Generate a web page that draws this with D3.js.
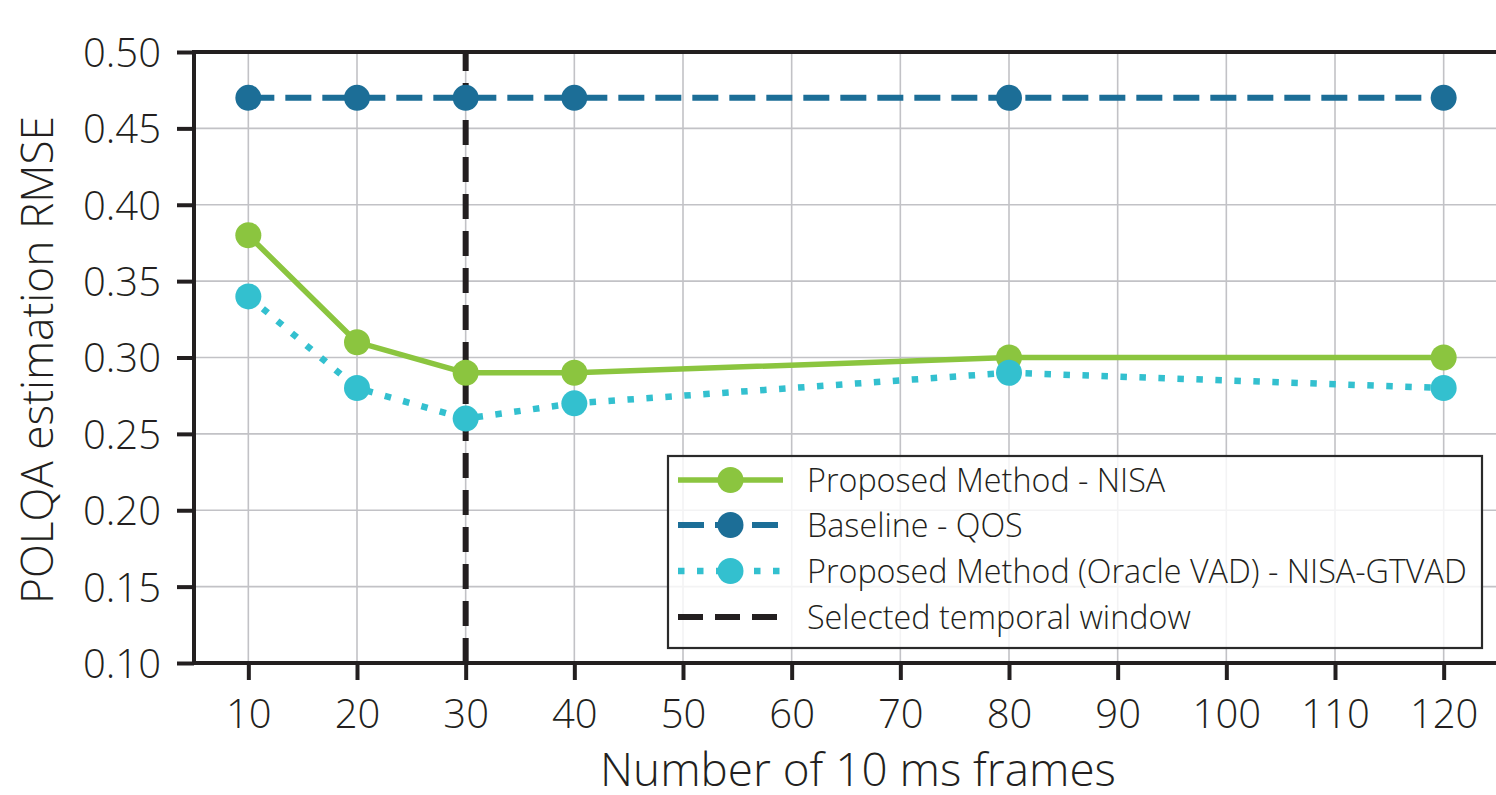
<!DOCTYPE html>
<html>
<head>
<meta charset="utf-8">
<script src="https://cdn.jsdelivr.net/npm/d3@7"></script>
<style>
  html, body { margin: 0; padding: 0; background: #fff; overflow: hidden; }
  svg { display: block; }
  text { font-family: "Open Sans", "Noto Sans", sans-serif; fill: #231f20; }
</style>
</head>
<body>
<svg id="chart" width="1496" height="795"></svg>
<script>
// ---- data ----
const frames = [10, 20, 30, 40, 80, 120];
const nisa   = [0.38, 0.31, 0.29, 0.29, 0.30, 0.30];
const qos    = [0.47, 0.47, 0.47, 0.47, 0.47, 0.47];
const gtvad  = [0.34, 0.28, 0.26, 0.27, 0.29, 0.28];
const selectedWindow = 30;
const xTicks = [10, 20, 30, 40, 50, 60, 70, 80, 90, 100, 110, 120];
const yTicks = [0.10, 0.15, 0.20, 0.25, 0.30, 0.35, 0.40, 0.45, 0.50];
const seriesNames = ["Proposed Method - NISA", "Baseline - QOS", "Proposed Method (Oracle VAD) - NISA-GTVAD"];
const vlineName = "Selected temporal window";
const xLabel = "Number of 10 ms frames";
const yLabel = "POLQA estimation RMSE";

// ---- styles ----
const C_GREEN = "#8bc53f", C_BLUE = "#1c6e97", C_CYAN = "#33c0cf", C_DARK = "#231f20";
const styles = [
  { color: C_GREEN, dash: null, lw: 5.5 },
  { color: C_BLUE,  dash: "26,11", lw: 6 },
  { color: C_CYAN,  dash: "6.5,12.5", lw: 6.5 }
];
const markerR = 13;
const SPINE_W = 4;

const svg = d3.select("#chart");
const L = 194, R = 1498, T = 52, B = 663;

const x = d3.scaleLinear().domain([5, 125]).range([L, R]);
const y = d3.scaleLinear().domain([0.10, 0.50]).range([B, T]);

// grid
const grid = svg.append("g");
grid.selectAll("line.vx").data(xTicks).join("line")
  .attr("x1", d => x(d)).attr("x2", d => x(d)).attr("y1", T).attr("y2", B)
  .attr("stroke", "#c2c2c6").attr("stroke-width", 1.6);
grid.selectAll("line.hy").data(yTicks).join("line")
  .attr("y1", d => y(d)).attr("y2", d => y(d)).attr("x1", L).attr("x2", R)
  .attr("stroke", "#c2c2c6").attr("stroke-width", 1.6);

// vertical selected window line (bottom to top)
svg.append("line")
  .attr("x1", x(selectedWindow)).attr("x2", x(selectedWindow))
  .attr("y1", B).attr("y2", T)
  .attr("stroke", C_DARK).attr("stroke-width", 6).attr("stroke-dasharray", "25,12");

// series
const allSeries = [nisa, qos, gtvad];
const line = d3.line().x(d => x(d[0])).y(d => y(d[1]));
allSeries.forEach((vals, i) => {
  const pts = frames.map((f, j) => [f, vals[j]]);
  const st = styles[i];
  const g = svg.append("g");
  g.append("path").datum(pts).attr("d", line)
    .attr("fill", "none").attr("stroke", st.color).attr("stroke-width", st.lw)
    .attr("stroke-linejoin", "round")
    .attr("stroke-linecap", st.dash ? "butt" : "round")
    .attr("stroke-dasharray", st.dash);
  g.selectAll("circle").data(pts).join("circle")
    .attr("cx", d => x(d[0])).attr("cy", d => y(d[1])).attr("r", markerR)
    .attr("fill", st.color);
});

// spines
svg.append("line").attr("x1", L).attr("x2", R).attr("y1", T).attr("y2", T)
  .attr("stroke", C_DARK).attr("stroke-width", SPINE_W);
svg.append("line").attr("x1", R).attr("x2", R).attr("y1", T).attr("y2", B)
  .attr("stroke", C_DARK).attr("stroke-width", SPINE_W);

const tickFont = 40;
const xAxis = d3.axisBottom(x).tickValues(xTicks).tickSize(17).tickPadding(8).tickFormat(d3.format("d"));
const gx = svg.append("g").attr("transform", `translate(0,${B})`).call(xAxis);
const yAxis = d3.axisLeft(y).tickValues(yTicks).tickSize(17).tickPadding(16).tickFormat(d3.format(".2f"));
const gy = svg.append("g").attr("transform", `translate(${L},0)`).call(yAxis);
[gx, gy].forEach(g => {
  g.select(".domain").attr("stroke", C_DARK).attr("stroke-width", SPINE_W);
  g.selectAll(".tick line").attr("stroke", C_DARK).attr("stroke-width", SPINE_W);
  g.selectAll(".tick text").attr("font-size", tickFont).attr("font-weight", 300)
    .attr("font-family", '"Open Sans", sans-serif').attr("fill", C_DARK);
});
gx.select(".domain").attr("d", `M${L - 2},0H${R}`);
gy.select(".domain").attr("d", `M0,${B}V${T - 2}`);
gx.selectAll(".tick text").attr("dy", null).attr("y", 65);
gy.selectAll(".tick text").attr("dy", "0.36em");

// axis labels, fitted to target widths
function fit(sel, target) {
  const w = sel.node().getComputedTextLength();
  const fs = parseFloat(sel.attr("font-size"));
  sel.attr("font-size", fs * target / w);
}
const xl = svg.append("text").attr("x", (600 + 1116) / 2).attr("y", 786)
  .attr("text-anchor", "middle").attr("font-size", 42).attr("font-weight", 300).text(xLabel);
fit(xl, 516);
const yl = svg.append("text")
  .attr("transform", `translate(53,${(115 + 605) / 2}) rotate(-90)`)
  .attr("text-anchor", "middle").attr("font-size", 42).attr("font-weight", 300).text(yLabel);
fit(yl, 488);

// legend
const lg = svg.append("g");
lg.append("rect").attr("x", 668).attr("y", 456).attr("width", 814).attr("height", 192)
  .attr("fill", "#fff").attr("fill-opacity", 0.8)
  .attr("stroke", "#2a2a2a").attr("stroke-width", 2.2);
const rowY = [480, 525, 571, 617];
const legendItems = seriesNames.map((n, i) => ({ name: n, st: styles[i], marker: true }))
  .concat([{ name: vlineName, st: { color: C_DARK, dash: "25,12", lw: 6 }, marker: false }]);
const texts = [];
legendItems.forEach((it, i) => {
  const yy = rowY[i];
  lg.append("line").attr("x1", 678).attr("x2", 783).attr("y1", yy).attr("y2", yy)
    .attr("stroke", it.st.color).attr("stroke-width", it.st.lw)
    .attr("stroke-dasharray", it.st.dash);
  if (it.marker) lg.append("circle").attr("cx", 730.5).attr("cy", yy).attr("r", markerR).attr("fill", it.st.color);
  texts.push(lg.append("text").attr("x", 807).attr("y", yy).attr("dy", "0.36em")
    .attr("font-size", 30).attr("font-weight", 300).text(it.name));
});
// fit legend font size using the longest entry
const longest = texts[2];
const w0 = longest.node().getComputedTextLength();
const lfs = 30 * 660 / w0;
texts.forEach(t => t.attr("font-size", lfs));
</script>
</body>
</html>
